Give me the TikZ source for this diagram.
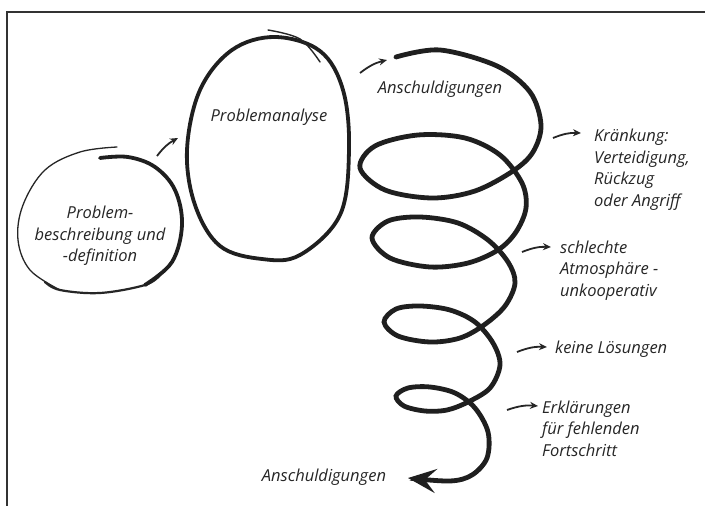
\documentclass[tikz,border=0pt]{standalone}
\usepackage{fontspec}
\setmainfont{Open Sans}
\usetikzlibrary{arrows.meta}
\begin{document}
\begin{tikzpicture}[x=1pt,y=-1pt,
  lbl/.style={font=\fontsize{16.5}{21.5}\selectfont\itshape, inner sep=0pt, align=left, text=black!85},
  small/.style={line width=1.8pt, -{Stealth[length=8pt,width=7pt]}, black!85},
  spir/.style={line width=4.8pt, black!88, line cap=round},
  ring/.style={line width=3.8pt, black!88, line cap=round}]
\useasboundingbox (0,0) rectangle (705,506);
\fill[white] (0,0) rectangle (705,506);
% frame
\draw[line width=1.6pt, black!80] (7,506) -- (7,12) -- (705,12);

% circle 1 (thin to thick stroke)
\draw[line width=1.3pt, black!85, line cap=round] plot[smooth, tension=0.6] coordinates {(117,147) (80,152) (45,170) (23,205) (18,240) (30,270) (60,290)};
\draw[line width=2.2pt, black!85, line cap=round] plot[smooth, tension=0.6] coordinates {(45,282) (60,290) (100,293) (145,285) (160,275)};
\draw[ring] plot[smooth, tension=0.6] coordinates {(145,285) (172,262) (182,225) (175,190) (155,167) (128,157) (100,158)};

% circle 2
\draw[ring] plot[smooth cycle, tension=0.6] coordinates {(275,37) (320,51) (343,90) (349,150) (340,215) (300,255) (262,259) (220,246) (195,205) (187,150) (200,90) (232,50)};
\draw[line width=1.4pt, black!85, line cap=round] plot[smooth, tension=0.6] coordinates {(268,30) (300,39) (320,62)};

% spiral
\draw[spir, -{Stealth[length=28pt,width=24pt,inset=11pt]}] plot[smooth, tension=0.55] coordinates {
 (396,57) (440,50) (497,66) (530,92) (541,125) (533,152) (513,171) (475,191) (432,198) (385,190) (360,168) (375,146) (418,135) (465,138) (500,155) (522,183) (526,208) (516,232) (498,250) (468,263) (430,267) (390,258) (372,238) (388,221) (420,217) (458,223) (488,240) (508,262) (515,283) (505,306) (484,325) (460,338) (430,342) (398,336) (384,322) (396,309) (420,306) (450,310) (475,322) (493,343) (500,365) (490,388) (468,402) (447,410) (425,411) (404,406) (396,396) (408,388) (430,387) (455,393) (475,408) (488,432) (487,458) (472,475) (450,481) (408,478)};

% texts
\node[lbl, align=center] (t1) at (100,236) {Problem-\\beschreibung und\\-definition};
\node[lbl] (t2) at (269,117) {Problemanalyse};
\node[lbl] (t3) at (440,89) {Anschuldigungen};
\node[lbl, anchor=west] (t4) at (594,169.5) {Kränkung:\\Verteidigung,\\Rückzug\\oder Angriff};
\node[lbl, anchor=west] (t5) at (560,270.5) {schlechte\\Atmosphäre -\\unkooperativ};
\node[lbl, anchor=west] (t6) at (555,349) {keine Lösungen};
\node[lbl, anchor=west] (t7) at (542,428.5) {Erklärungen\\für fehlenden\\Fortschritt};
\node[lbl] (t8) at (324,477) {Anschuldigungen};

% small arrows
\coordinate (a1s) at (157,156); \coordinate (a1e) at (178,138);
\coordinate (a2s) at (360,73);  \coordinate (a2e) at (387,60);
\coordinate (a3s) at (553,138); \coordinate (a3e) at (581,133);
\coordinate (a4s) at (522,252); \coordinate (a4e) at (551,247);
\coordinate (a5s) at (517,352); \coordinate (a5e) at (547,347);
\coordinate (a6s) at (507,410); \coordinate (a6e) at (538,406);
\foreach \i in {1,...,6} \draw[small] (a\i s) to[bend left=12] (a\i e);
\end{tikzpicture}
\end{document}
